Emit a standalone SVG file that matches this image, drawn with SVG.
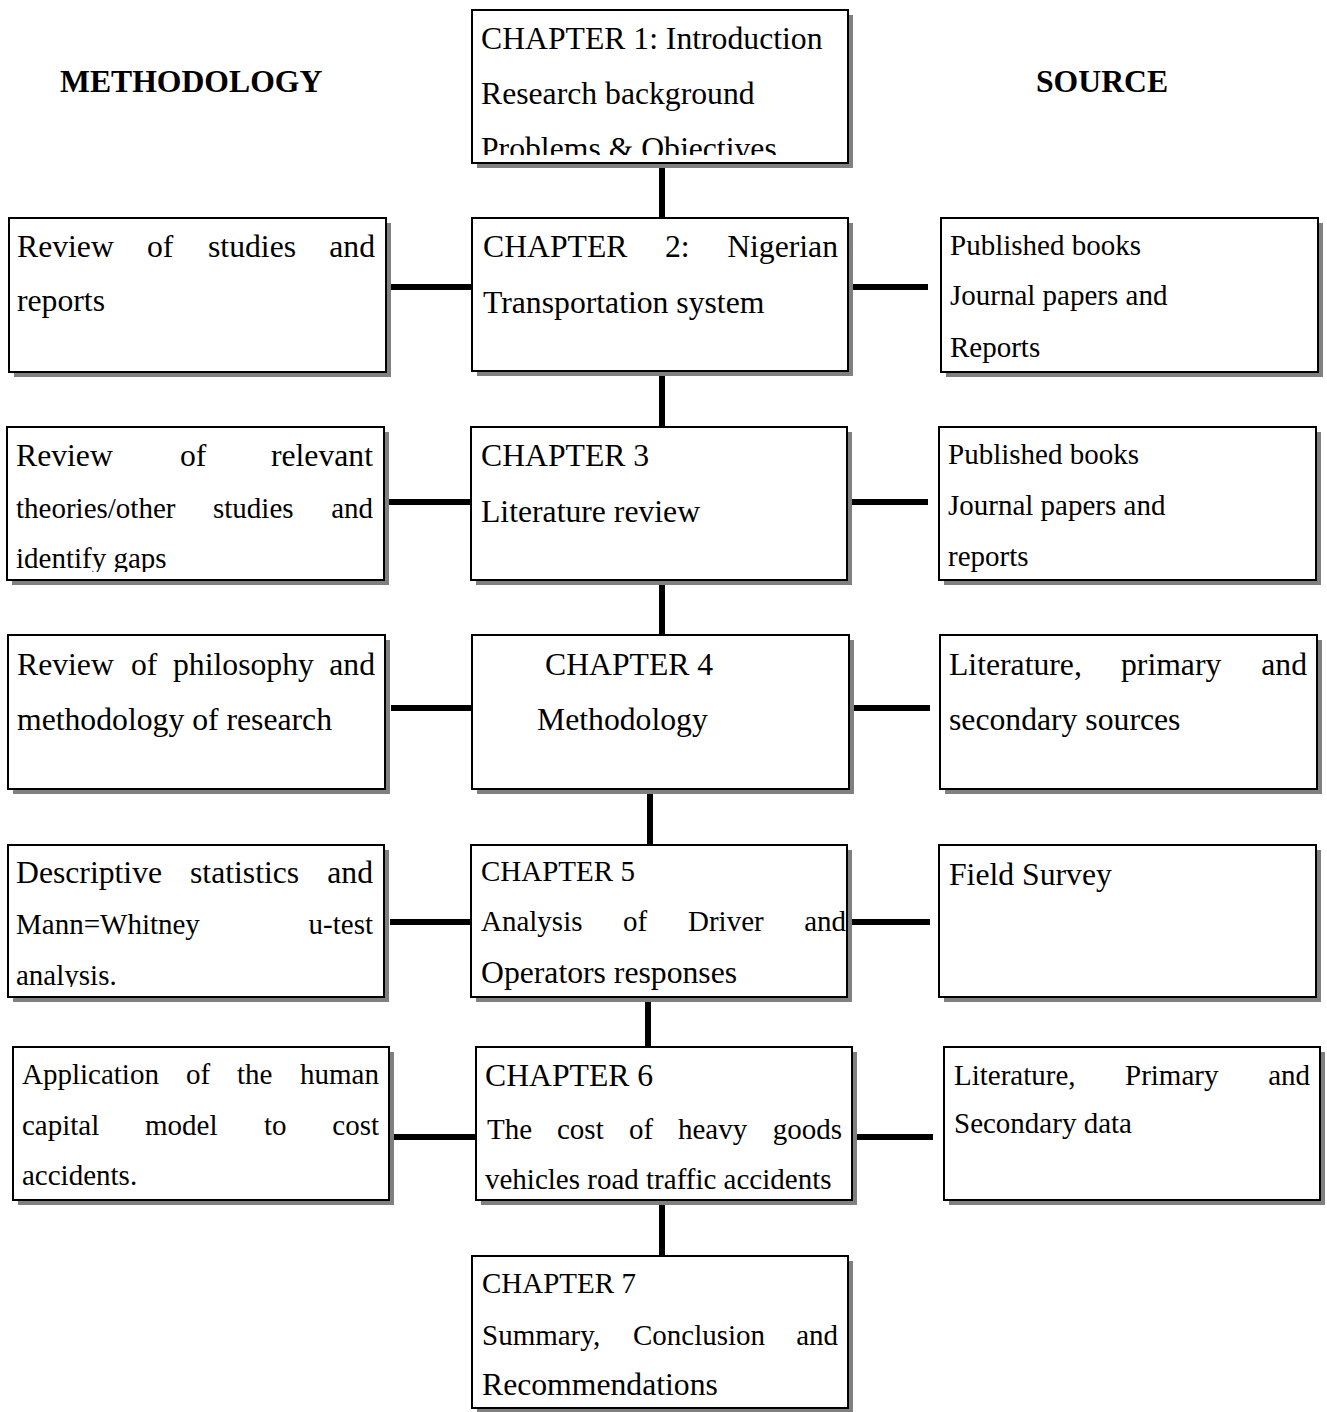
<svg xmlns="http://www.w3.org/2000/svg" width="1327" height="1412" viewBox="0 0 1327 1412">
<style>
.sh{fill:#808080}
.bx{fill:#fff;stroke:#000;stroke-width:2}
text{font-family:"Liberation Serif","Times New Roman",serif;font-size:31.7px;fill:#000}
.s{font-size:29px}
.e{text-anchor:end}
.h{font-weight:bold}
#connectors line{stroke:#000;stroke-width:6}
</style>
<defs>
<clipPath id="c1"><rect x="472" y="10" width="376" height="145"/></clipPath>
<clipPath id="cl3"><rect x="7" y="427" width="377" height="145"/></clipPath>
<clipPath id="cl5"><rect x="8" y="845" width="376" height="142"/></clipPath>
</defs>
<rect width="1327" height="1412" fill="#fff"/>

<g id="headers">
<text class="h" x="60" y="92">METHODOLOGY</text>
<text class="h" x="1036" y="92">SOURCE</text>
</g>

<g id="connectors">
<line x1="662" y1="163" x2="662" y2="218"/>
<line x1="662" y1="371" x2="662" y2="427"/>
<line x1="662" y1="580" x2="662" y2="635"/>
<line x1="650" y1="789" x2="650" y2="845"/>
<line x1="648" y1="997" x2="648" y2="1047"/>
<line x1="662" y1="1200" x2="662" y2="1256"/>
<line x1="389" y1="287" x2="471" y2="287"/>
<line x1="848" y1="287" x2="928" y2="287"/>
<line x1="389" y1="502" x2="470" y2="502"/>
<line x1="848" y1="502" x2="928" y2="502"/>
<line x1="391" y1="708" x2="471" y2="708"/>
<line x1="850" y1="708" x2="930" y2="708"/>
<line x1="390" y1="922" x2="470" y2="922"/>
<line x1="848" y1="922" x2="930" y2="922"/>
<line x1="394" y1="1137" x2="475" y2="1137"/>
<line x1="855" y1="1137" x2="933" y2="1137"/>
</g>

<g id="ch1">
<rect class="sh" x="477" y="15" width="376" height="153"/>
<rect class="bx" x="472" y="10" width="376" height="153"/>
<g clip-path="url(#c1)">
<text x="481" y="49">CHAPTER 1: Introduction</text>
<text x="481" y="104">Research background</text>
<text x="481" y="159">Problems &amp; Objectives</text>
</g>
</g>

<g id="ch2">
<rect class="sh" x="477" y="223" width="376" height="153"/>
<rect class="bx" x="472" y="218" width="376" height="153"/>
<text x="483" y="257">CHAPTER</text>
<text x="665" y="257">2:</text>
<text class="e" x="838" y="257">Nigerian</text>
<text x="483" y="313">Transportation system</text>
</g>

<g id="ch3">
<rect class="sh" x="476" y="432" width="376" height="153"/>
<rect class="bx" x="471" y="427" width="376" height="153"/>
<text x="481" y="466">CHAPTER 3</text>
<text x="481" y="522">Literature review</text>
</g>

<g id="ch4">
<rect class="sh" x="477" y="640" width="377" height="154"/>
<rect class="bx" x="472" y="635" width="377" height="154"/>
<text x="545" y="675">CHAPTER 4</text>
<text x="537" y="730">Methodology</text>
</g>

<g id="ch5">
<rect class="sh" x="476" y="850" width="376" height="152"/>
<rect class="bx" x="471" y="845" width="376" height="152"/>
<text class="s" x="481" y="881">CHAPTER 5</text>
<text class="s" x="481" y="931">Analysis</text>
<text class="s" x="623" y="931">of</text>
<text class="s" x="688" y="931">Driver</text>
<text class="s e" x="846" y="931">and</text>
<text x="481" y="983">Operators responses</text>
</g>

<g id="ch6">
<rect class="sh" x="481" y="1052" width="376" height="153"/>
<rect class="bx" x="476" y="1047" width="376" height="153"/>
<text x="485" y="1086">CHAPTER 6</text>
<text class="s" x="487" y="1139">The</text>
<text class="s" x="557" y="1139">cost</text>
<text class="s" x="629" y="1139">of</text>
<text class="s" x="678" y="1139">heavy</text>
<text class="s e" x="842" y="1139">goods</text>
<text class="s" x="485" y="1189">vehicles road traffic accidents</text>
</g>

<g id="ch7">
<rect class="sh" x="477" y="1261" width="376" height="152"/>
<rect class="bx" x="472" y="1256" width="376" height="152"/>
<text class="s" x="482" y="1293">CHAPTER 7</text>
<text class="s" x="482" y="1345">Summary,</text>
<text class="s" x="633" y="1345">Conclusion</text>
<text class="s e" x="838" y="1345">and</text>
<text x="482" y="1395">Recommendations</text>
</g>

<g id="m2">
<rect class="sh" x="14" y="223" width="377" height="154"/>
<rect class="bx" x="9" y="218" width="377" height="154"/>
<text x="17" y="257">Review</text>
<text x="147" y="257">of</text>
<text x="208" y="257">studies</text>
<text class="e" x="375" y="257">and</text>
<text x="17" y="311">reports</text>
</g>

<g id="m3">
<rect class="sh" x="12" y="432" width="377" height="153"/>
<rect class="bx" x="7" y="427" width="377" height="153"/>
<g clip-path="url(#cl3)">
<text x="16" y="466">Review</text>
<text x="180" y="466">of</text>
<text class="e" x="373" y="466">relevant</text>
<text class="s" x="16" y="518">theories/other</text>
<text class="s" x="213" y="518">studies</text>
<text class="s e" x="373" y="518">and</text>
<text class="s" x="16" y="568">identify gaps</text>
</g>
</g>

<g id="m4">
<rect class="sh" x="13" y="640" width="377" height="154"/>
<rect class="bx" x="8" y="635" width="377" height="154"/>
<text x="17" y="675">Review</text>
<text x="131" y="675">of</text>
<text x="173" y="675">philosophy</text>
<text class="e" x="375" y="675">and</text>
<text x="17" y="730">methodology of research</text>
</g>

<g id="m5">
<rect class="sh" x="13" y="850" width="376" height="152"/>
<rect class="bx" x="8" y="845" width="376" height="152"/>
<g clip-path="url(#cl5)">
<text x="16" y="883">Descriptive</text>
<text x="190" y="883">statistics</text>
<text class="e" x="373" y="883">and</text>
<text class="s" x="16" y="934">Mann=Whitney</text>
<text class="s e" x="373" y="934">u-test</text>
<text class="s" x="16" y="985">analysis.</text>
</g>
</g>

<g id="m6">
<rect class="sh" x="18" y="1052" width="376" height="153"/>
<rect class="bx" x="13" y="1047" width="376" height="153"/>
<text class="s" x="22" y="1084">Application</text>
<text class="s" x="186" y="1084">of</text>
<text class="s" x="237" y="1084">the</text>
<text class="s e" x="379" y="1084">human</text>
<text class="s" x="22" y="1135">capital</text>
<text class="s" x="145" y="1135">model</text>
<text class="s" x="264" y="1135">to</text>
<text class="s e" x="379" y="1135">cost</text>
<text class="s" x="22" y="1185">accidents.</text>
</g>

<g id="s2">
<rect class="sh" x="946" y="223" width="377" height="154"/>
<rect class="bx" x="941" y="218" width="377" height="154"/>
<text class="s" x="950" y="255">Published books</text>
<text class="s" x="950" y="305">Journal papers and</text>
<text class="s" x="950" y="357">Reports</text>
</g>

<g id="s3">
<rect class="sh" x="944" y="432" width="377" height="153"/>
<rect class="bx" x="939" y="427" width="377" height="153"/>
<text class="s" x="948" y="464">Published books</text>
<text class="s" x="948" y="515">Journal papers and</text>
<text class="s" x="948" y="566">reports</text>
</g>

<g id="s4">
<rect class="sh" x="945" y="640" width="377" height="154"/>
<rect class="bx" x="940" y="635" width="377" height="154"/>
<text x="949" y="675">Literature,</text>
<text x="1121" y="675">primary</text>
<text class="e" x="1307" y="675">and</text>
<text x="949" y="730">secondary sources</text>
</g>

<g id="s5">
<rect class="sh" x="944" y="850" width="377" height="152"/>
<rect class="bx" x="939" y="845" width="377" height="152"/>
<text x="949" y="885">Field Survey</text>
</g>

<g id="s6">
<rect class="sh" x="949" y="1052" width="376" height="153"/>
<rect class="bx" x="944" y="1047" width="376" height="153"/>
<text class="s" x="954" y="1085">Literature,</text>
<text class="s" x="1125" y="1085">Primary</text>
<text class="s e" x="1310" y="1085">and</text>
<text class="s" x="954" y="1133">Secondary data</text>
</g>
</svg>
